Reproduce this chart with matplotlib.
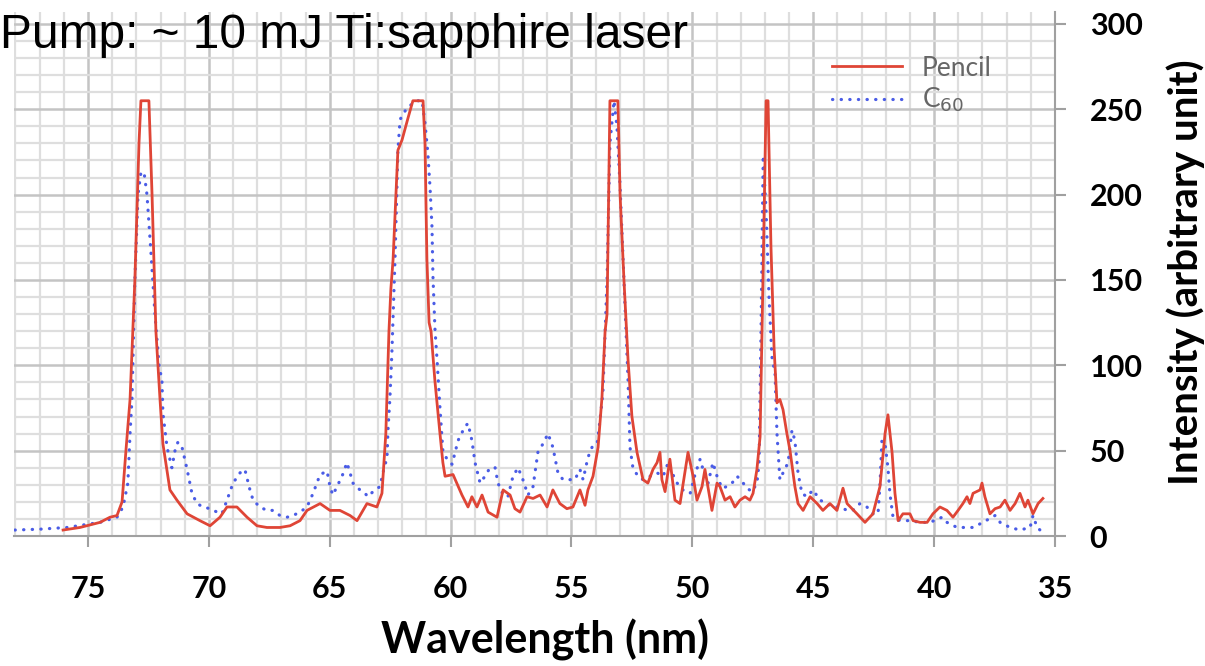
from matplotlib import pyplot as plt
from matplotlib.ticker import MultipleLocator
import numpy as np

# spectrum: wavelength (nm), intensity (arb. unit)
pencil_wl = [76.03, 75.33, 74.50, 74.09, 73.80, 73.59, 73.43, 73.26, 73.06, 72.89,
             72.81, 72.48, 72.35, 72.19, 72.02, 71.90, 71.61, 71.32, 70.90, 70.37,
             69.95, 69.54, 69.25, 68.84, 68.42, 68.01, 67.60, 67.06, 66.64, 66.23,
             65.94, 65.40, 64.99, 64.58, 64.16, 63.87, 63.46, 63.05, 62.84, 62.68,
             62.55, 62.47, 62.38, 62.18, 62.01, 61.76, 61.56, 61.14, 61.06, 60.98,
             60.89, 60.81, 60.65, 60.44, 60.32, 60.23, 59.90, 59.53, 59.28, 59.12,
             58.91, 58.70, 58.45, 58.08, 57.83, 57.54, 57.34, 57.13, 56.84, 56.59,
             56.30, 56.01, 55.77, 55.48, 55.19, 54.94, 54.65, 54.44, 54.32, 54.11,
             53.90, 53.74, 53.61, 53.53, 53.41, 53.08, 52.99, 52.83, 52.66, 52.50,
             52.29, 52.04, 51.84, 51.63, 51.46, 51.34, 51.26, 51.13, 50.93, 50.72,
             50.51, 50.18, 49.97, 49.81, 49.60, 49.48, 49.19, 48.98, 48.86, 48.65,
             48.44, 48.24, 48.03, 47.82, 47.62, 47.49, 47.33, 47.20, 47.08, 46.95,
             46.87, 46.75, 46.62, 46.50, 46.38, 46.25, 46.09, 45.96, 45.76, 45.63,
             45.42, 45.13, 44.84, 44.60, 44.31, 44.02, 43.77, 43.60, 43.19, 42.86,
             42.53, 42.24, 42.03, 41.91, 41.74, 41.62, 41.49, 41.29, 41.00, 40.87,
             40.58, 40.29, 40.05, 39.76, 39.47, 39.22, 39.01, 38.81, 38.64, 38.52,
             38.39, 38.10, 38.02, 37.90, 37.69, 37.48, 37.27, 37.07, 36.86, 36.65,
             36.45, 36.24, 36.12, 35.91, 35.70, 35.50]
pencil_int = [3.5, 5, 8, 11, 12, 20, 50, 80, 150, 230,
              255, 255, 200, 120, 80, 54, 27, 21, 13, 9,
              6, 11, 17, 17, 11, 6, 5, 5, 6, 9,
              15, 19, 15, 15, 12, 9, 19, 17, 25, 60,
              120, 145, 162, 226, 232, 245, 255, 255, 230, 162,
              125, 120, 91, 60, 43, 35, 36, 24, 17, 23,
              17, 24, 14, 11, 27, 24, 16, 14, 23, 22,
              24, 17, 27, 19, 16, 17, 27, 18, 27, 35,
              52, 81, 120, 130, 255, 255, 200, 150, 103, 70,
              49, 33, 31, 39, 43, 49, 33, 26, 45, 21,
              19, 49, 35, 21, 29, 39, 15, 31, 29, 21,
              23, 17, 21, 23, 21, 25, 39, 58, 150, 255,
              255, 170, 110, 78, 80, 74, 60, 50, 29, 19,
              15, 23, 19, 15, 19, 15, 28, 19, 13, 8,
              13, 29, 60, 71, 49, 25, 9, 13, 13, 9,
              8, 8, 13, 17, 15, 11, 15, 19, 23, 19,
              25, 27, 31, 23, 13, 16, 17, 21, 15, 19,
              25, 17, 21, 13, 19, 22]

c60_wl = [78.02, 76.99, 75.87, 74.50, 73.80, 73.55, 73.35, 73.26, 73.18, 73.06,
          72.93, 72.81, 72.68, 72.56, 72.39, 72.23, 72.06, 71.94, 71.90, 71.73,
          71.53, 71.40, 71.28, 71.11, 70.90, 70.70, 70.49, 70.24, 69.95, 69.66,
          69.46, 69.25, 69.00, 68.71, 68.51, 68.30, 68.17, 67.89, 67.60, 67.35,
          67.06, 66.77, 66.52, 66.23, 65.94, 65.69, 65.40, 65.11, 64.99, 64.87,
          64.70, 64.49, 64.29, 64.16, 64.04, 63.75, 63.54, 63.42, 63.21, 62.92,
          62.80, 62.63, 62.59, 62.51, 62.43, 62.30, 62.18, 62.09, 61.80, 61.39,
          61.18, 61.06, 60.94, 60.85, 60.77, 60.73, 60.65, 60.56, 60.44, 60.32,
          60.15, 59.94, 59.69, 59.41, 59.28, 59.12, 58.99, 58.78, 58.58, 58.37,
          58.16, 58.04, 57.83, 57.63, 57.42, 57.21, 57.01, 56.80, 56.59, 56.39,
          56.18, 55.97, 55.77, 55.56, 55.35, 55.06, 54.86, 54.65, 54.52, 54.32,
          54.15, 53.94, 53.82, 53.70, 53.53, 53.41, 53.24, 53.12, 52.99, 52.83,
          52.66, 52.58, 52.46, 52.25, 52.04, 51.75, 51.46, 51.21, 51.00, 50.84,
          50.63, 50.39, 50.09, 49.89, 49.68, 49.56, 49.35, 49.15, 48.98, 48.77,
          48.57, 48.36, 48.15, 47.95, 47.74, 47.53, 47.33, 47.24, 47.16, 47.07,
          46.95, 46.83, 46.71, 46.58, 46.50, 46.38, 46.25, 46.04, 45.88, 45.76,
          45.63, 45.47, 45.26, 45.01, 44.72, 44.43, 44.18, 43.89, 43.60, 43.36,
          43.07, 42.78, 42.53, 42.32, 42.24, 42.16, 42.03, 41.91, 41.83, 41.70,
          41.41, 41.00, 40.58, 40.17, 39.67, 39.47, 39.05, 38.64, 38.39, 37.98,
          37.48, 37.27, 36.86, 36.45, 36.03, 35.91, 35.74, 35.50]
c60_int = [3.5, 4, 5, 8, 11, 17, 31, 60, 80, 150,
           200, 213, 213, 200, 165, 130, 100, 91, 72, 52,
           40, 50, 55, 52, 39, 25, 19, 17, 16, 14,
           13, 21, 31, 37, 39, 27, 21, 17, 15, 15,
           12, 11, 12, 14, 17, 25, 36, 38, 29, 24,
           29, 35, 43, 37, 31, 27, 25, 23, 26, 29,
           37, 46, 62, 81, 107, 162, 226, 244, 251, 255,
           255, 242, 224, 204, 181, 152, 122, 103, 75, 50,
           45, 42, 56, 64, 66, 56, 43, 31, 35, 40,
           40, 31, 24, 23, 35, 40, 33, 24, 29, 49,
           54, 60, 52, 37, 33, 33, 33, 39, 33, 46,
           52, 54, 68, 84, 150, 230, 255, 240, 205, 150,
           91, 52, 40, 35, 33, 35, 37, 35, 43, 37,
           31, 27, 25, 36, 45, 39, 31, 43, 35, 28,
           29, 31, 35, 32, 28, 26, 31, 43, 120, 223,
           190, 140, 105, 95, 60, 33, 37, 43, 62, 56,
           37, 25, 23, 27, 21, 19, 17, 17, 15, 15,
           19, 17, 13, 13, 30, 56, 54, 40, 25, 11,
           9, 9, 8, 8, 11, 8, 5, 5, 5, 8,
           12, 8, 5, 3.5, 5, 12, 5, 2]

x_ticks = [75, 70, 65, 60, 55, 50, 45, 40, 35]
y_ticks = [0, 50, 100, 150, 200, 250, 300]

red = '#df4536'
blue = '#4a5ce6'

fig = plt.figure(figsize=(12.05, 6.66), dpi=100)
ax = fig.add_axes([14/1205, 1-536/666, (1055-14)/1205, (536-12)/666])

l_c60, = ax.plot(c60_wl, c60_int, color=blue, lw=2.3, linestyle=(0, (0.1, 2.6)),
                 dash_capstyle='round', label='C$_{60}$', zorder=3)
l_pen, = ax.plot(pencil_wl, pencil_int, color=red, lw=2.0, label='Pencil', zorder=4)

ax.set_xlim(78.06, 35)
ax.set_ylim(0, 307)
ax.set_xticks(x_ticks)
ax.set_yticks(y_ticks)
ax.xaxis.set_minor_locator(MultipleLocator(1))
ax.yaxis.set_minor_locator(MultipleLocator(10))
ax.grid(which='minor', color='#dedede', lw=1.6, zorder=0)
ax.grid(which='major', color='#c4c4c4', lw=1.8, zorder=0)
ax.set_axisbelow(True)

ax.yaxis.tick_right()
for s in ['top', 'left']:
    ax.spines[s].set_visible(False)
for s in ['bottom', 'right']:
    ax.spines[s].set_color('#a0a0a0')
    ax.spines[s].set_linewidth(1.5)

ax.tick_params(which='minor', length=0)
ax.tick_params(which='major', length=8, width=1.5, color='#a0a0a0',
               labelsize=22, pad=20)
ax.tick_params(axis='y', pad=17)
for lab in ax.get_xticklabels() + ax.get_yticklabels():
    lab.set_fontfamily('Lato')
    lab.set_fontweight('bold')

leg = ax.legend(handles=[l_pen, l_c60], loc='upper left', bbox_to_anchor=(0.776, 0.937),
                frameon=False, handlelength=2.65, handletextpad=0.75, labelspacing=0.2,
                borderaxespad=0.0, prop={'family': 'Lato', 'size': 19})
for t in leg.get_texts():
    t.set_color('#666666')

fig.text(545/1205, 1-640/666, 'Wavelength (nm)', ha='center', va='center',
         fontsize=31, fontweight='bold', family='Lato')
fig.text(1186/1205, 1-272/666, 'Intensity (arbitrary unit)', ha='center', va='center',
         rotation=90, fontsize=29, fontweight='bold', family='Lato')
fig.text(0.0, 1-48/666, 'Pump: ~ 10 mJ Ti:sapphire laser', ha='left', va='baseline',
         fontsize=34.5, family='Liberation Sans')

plt.savefig('out.png', dpi=100)
